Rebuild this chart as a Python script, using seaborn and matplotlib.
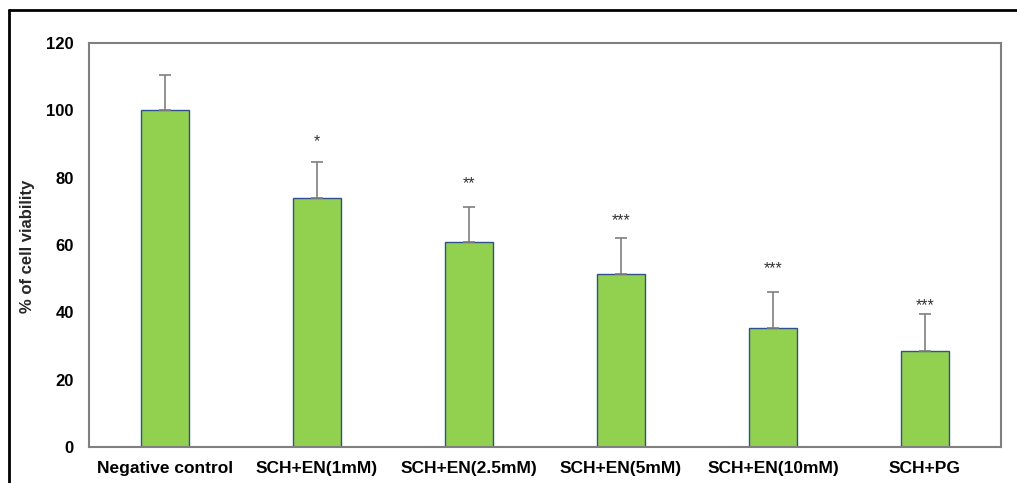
import matplotlib
matplotlib.use("Agg")
import matplotlib.pyplot as plt
import matplotlib.transforms as mtransforms
import seaborn as sns
import pandas as pd
from matplotlib.lines import Line2D

categories = ["Negative control", "SCH+EN(1mM)", "SCH+EN(2.5mM)", "SCH+EN(5mM)",
              "SCH+EN(10mM)", "SCH+PG"]
viability = [100.0, 74.0, 60.8, 51.3, 35.4, 28.4]
sd = [10.6, 10.7, 10.6, 10.8, 10.7, 11.0]
stars = ["", "*", "**", "***", "***", "***"]
star_heights = [None, 91.5, 79.1, 68.1, 53.8, 43.0]
yticks = [0, 20, 40, 60, 80, 100, 120]

sns.set_theme(style="white")
plt.rcParams['font.family'] = ['Liberation Sans', 'DejaVu Sans']

fig = plt.figure(figsize=(10.17, 4.83), dpi=100)
W, H = 1017, 483
ax = fig.add_axes([89 / W, (H - 447) / H, 912 / W, 404 / H])

df = pd.DataFrame({"cat": categories, "val": viability})
sns.barplot(data=df, x="cat", y="val", ax=ax, color="#92D050", saturation=1,
            width=0.316, edgecolor="#2F4F8F", linewidth=1.0, errorbar=None)

xs = list(range(len(categories)))
ax.errorbar(xs, viability, yerr=[[0] * len(sd), sd], fmt="none",
            ecolor="#7F7F7F", elinewidth=1.2, capsize=4, capthick=1.2, zorder=1)

# asterisk glyph sits high in its box: nudge down a few pixels
star_tr = mtransforms.offset_copy(ax.transData, fig=fig, x=0, y=-3, units="dots")
for x, hgt, st in zip(xs, star_heights, stars):
    if st:
        ax.text(x, hgt, st, ha="center", va="center", fontsize=11.5,
                color="#333333", transform=star_tr)

ax.set_xlim(-0.5, len(categories) - 0.5)
ax.set_ylim(0, 120)
ax.set_yticks(yticks)
ax.set_yticklabels([str(t) for t in yticks], fontsize=12, fontweight="bold")
ax.set_xticks(xs)
ax.set_xticklabels(categories, fontsize=12.5, fontweight="bold")
ax.tick_params(axis="y", length=0, pad=11, colors="black")
ax.tick_params(axis="x", length=0, pad=10, colors="black")
ax.set_xlabel("")
ax.set_ylabel("")
fig.text(28 / W, 1 - 246 / H, "% of cell viability", rotation=90, ha="center",
         va="center", fontsize=12, fontweight="bold")

for sp in ax.spines.values():
    sp.set_visible(True)
    sp.set_color("#808080")
    sp.set_linewidth(1.5)

# outer frame
fig.add_artist(Line2D([9 / W, 1.0], [1 - 10 / H, 1 - 10 / H], color="black",
                      linewidth=2, transform=fig.transFigure))
fig.add_artist(Line2D([9 / W, 9 / W], [1 - 10 / H, 0], color="black",
                      linewidth=2, transform=fig.transFigure))

fig.savefig("out.png", dpi=100)
